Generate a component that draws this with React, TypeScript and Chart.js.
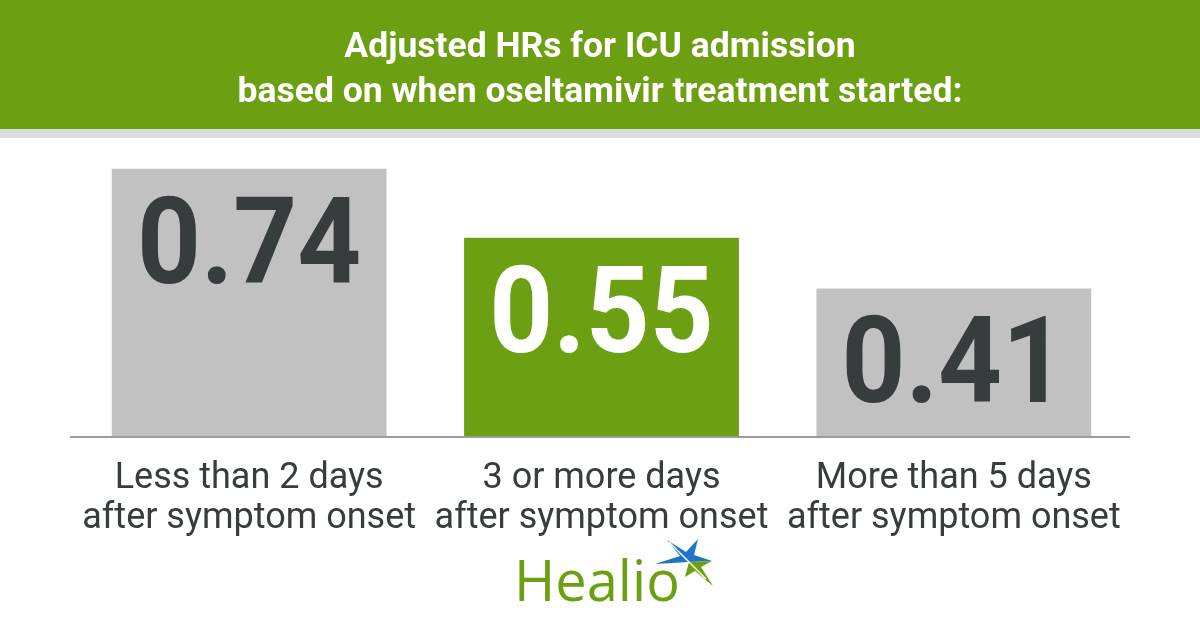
import { useEffect, useRef } from "react";
import Chart from "chart.js/auto";

// values
const categories = [
  ["Less than 2 days", "after symptom onset"],
  ["3 or more days", "after symptom onset"],
  ["More than 5 days", "after symptom onset"],
];
const hazardRatios = [0.74, 0.55, 0.41];
const valueLabels = ["0.74", "0.55", "0.41"];
const titleLines = ["Adjusted HRs for ICU admission", "based on when oseltamivir treatment started:"];

const GREEN = "#6ca012";
const GRAY = "#c1c1c1";
const DARK = "#373c3d";

const decorPlugin = {
  id: "decor",
  beforeDraw(chart: any) {
    const { ctx } = chart;
    ctx.save();
    ctx.fillStyle = "#ffffff";
    ctx.fillRect(0, 0, chart.width, chart.height);
    // header band
    ctx.fillStyle = GREEN;
    ctx.fillRect(0, 0, chart.width, 129);
    ctx.fillStyle = "#dcdcdc";
    ctx.fillRect(0, 129, chart.width, 9);
    // title
    ctx.fillStyle = "#ffffff";
    ctx.textAlign = "center";
    ctx.textBaseline = "alphabetic";
    ctx.font = "bold 35.5px Roboto";
    const baselines = [57, 102];
    titleLines.forEach((line, i) => {
      ctx.fillText(line, 600, baselines[i]);
    });
    ctx.restore();
  },
  afterDatasetsDraw(chart: any) {
    const { ctx, chartArea } = chart;
    ctx.save();
    // baseline
    ctx.strokeStyle = "#9b9b9b";
    ctx.lineWidth = 2;
    ctx.beginPath();
    ctx.moveTo(70, chartArea.bottom);
    ctx.lineTo(1130, chartArea.bottom);
    ctx.stroke();
    // values in the bars
    const meta = chart.getDatasetMeta(0);
    ctx.textAlign = "center";
    ctx.textBaseline = "alphabetic";
    ctx.font = "bold 120px Roboto";
    meta.data.forEach((bar: any, i: number) => {
      ctx.fillStyle = i === 1 ? "#ffffff" : DARK;
      ctx.save();
      ctx.translate(bar.x, bar.y + 114);
      ctx.scale(0.93, 1);
      ctx.fillText(valueLabels[i], 0, 0);
      ctx.restore();
    });
    // Healio logo
    ctx.fillStyle = GREEN;
    ctx.font = "56px 'Open Sans'";
    ctx.textAlign = "left";
    ctx.fillText("Healio", 514, 601);
    ctx.fillStyle = "#1f74c6";
    ctx.beginPath();
    ctx.moveTo(667, 540);
    ctx.lineTo(686, 552);
    ctx.lineTo(698, 539);
    ctx.lineTo(694, 555);
    ctx.lineTo(712, 561);
    ctx.lineTo(689, 562);
    ctx.lineTo(655, 564);
    ctx.lineTo(680, 556);
    ctx.closePath();
    ctx.fill();
    ctx.fillStyle = GREEN;
    ctx.beginPath();
    ctx.moveTo(689, 562);
    ctx.lineTo(712, 561);
    ctx.lineTo(701, 567);
    ctx.lineTo(713, 586);
    ctx.lineTo(695, 571);
    ctx.lineTo(685, 577);
    ctx.closePath();
    ctx.fill();
    ctx.strokeStyle = "#ffffff";
    ctx.lineWidth = 1.5;
    ctx.beginPath();
    ctx.moveTo(669, 542);
    ctx.lineTo(706, 579);
    ctx.stroke();
    ctx.restore();
  },
};

const App = () => {
  const canvasRef = useRef<HTMLCanvasElement | null>(null);

  useEffect(() => {
    document.body.style.margin = "0";
    if (!canvasRef.current) return;
    const ctx = canvasRef.current.getContext("2d");
    if (!ctx) return;

    const chart = new Chart(ctx, {
      type: "bar",
      data: {
        labels: categories,
        datasets: [
          {
            data: hazardRatios,
            backgroundColor: [GRAY, GREEN, GRAY],
            barPercentage: 0.78,
            categoryPercentage: 1,
          },
        ],
      },
      options: {
        responsive: false,
        animation: false,
        layout: { padding: { top: 147, left: 73, right: 70, bottom: 43 } },
        plugins: {
          legend: { display: false },
          tooltip: { enabled: false },
        },
        scales: {
          x: {
            grid: { display: false },
            border: { display: false },
            ticks: {
              color: DARK,
              padding: 14,
              font: { family: "Roboto", size: 36, lineHeight: 1.11 },
            },
            afterFit: (scale: any) => {
              scale.height = 150;
            },
          },
          y: { display: false, min: 0, max: 0.8 },
        },
      },
      plugins: [decorPlugin],
    });

    return () => {
      chart.destroy();
    };
  }, []);

  return (
    <div style={{ width: 1200, height: 630 }}>
      <canvas ref={canvasRef} width={1200} height={630}></canvas>
    </div>
  );
};

export default App;
